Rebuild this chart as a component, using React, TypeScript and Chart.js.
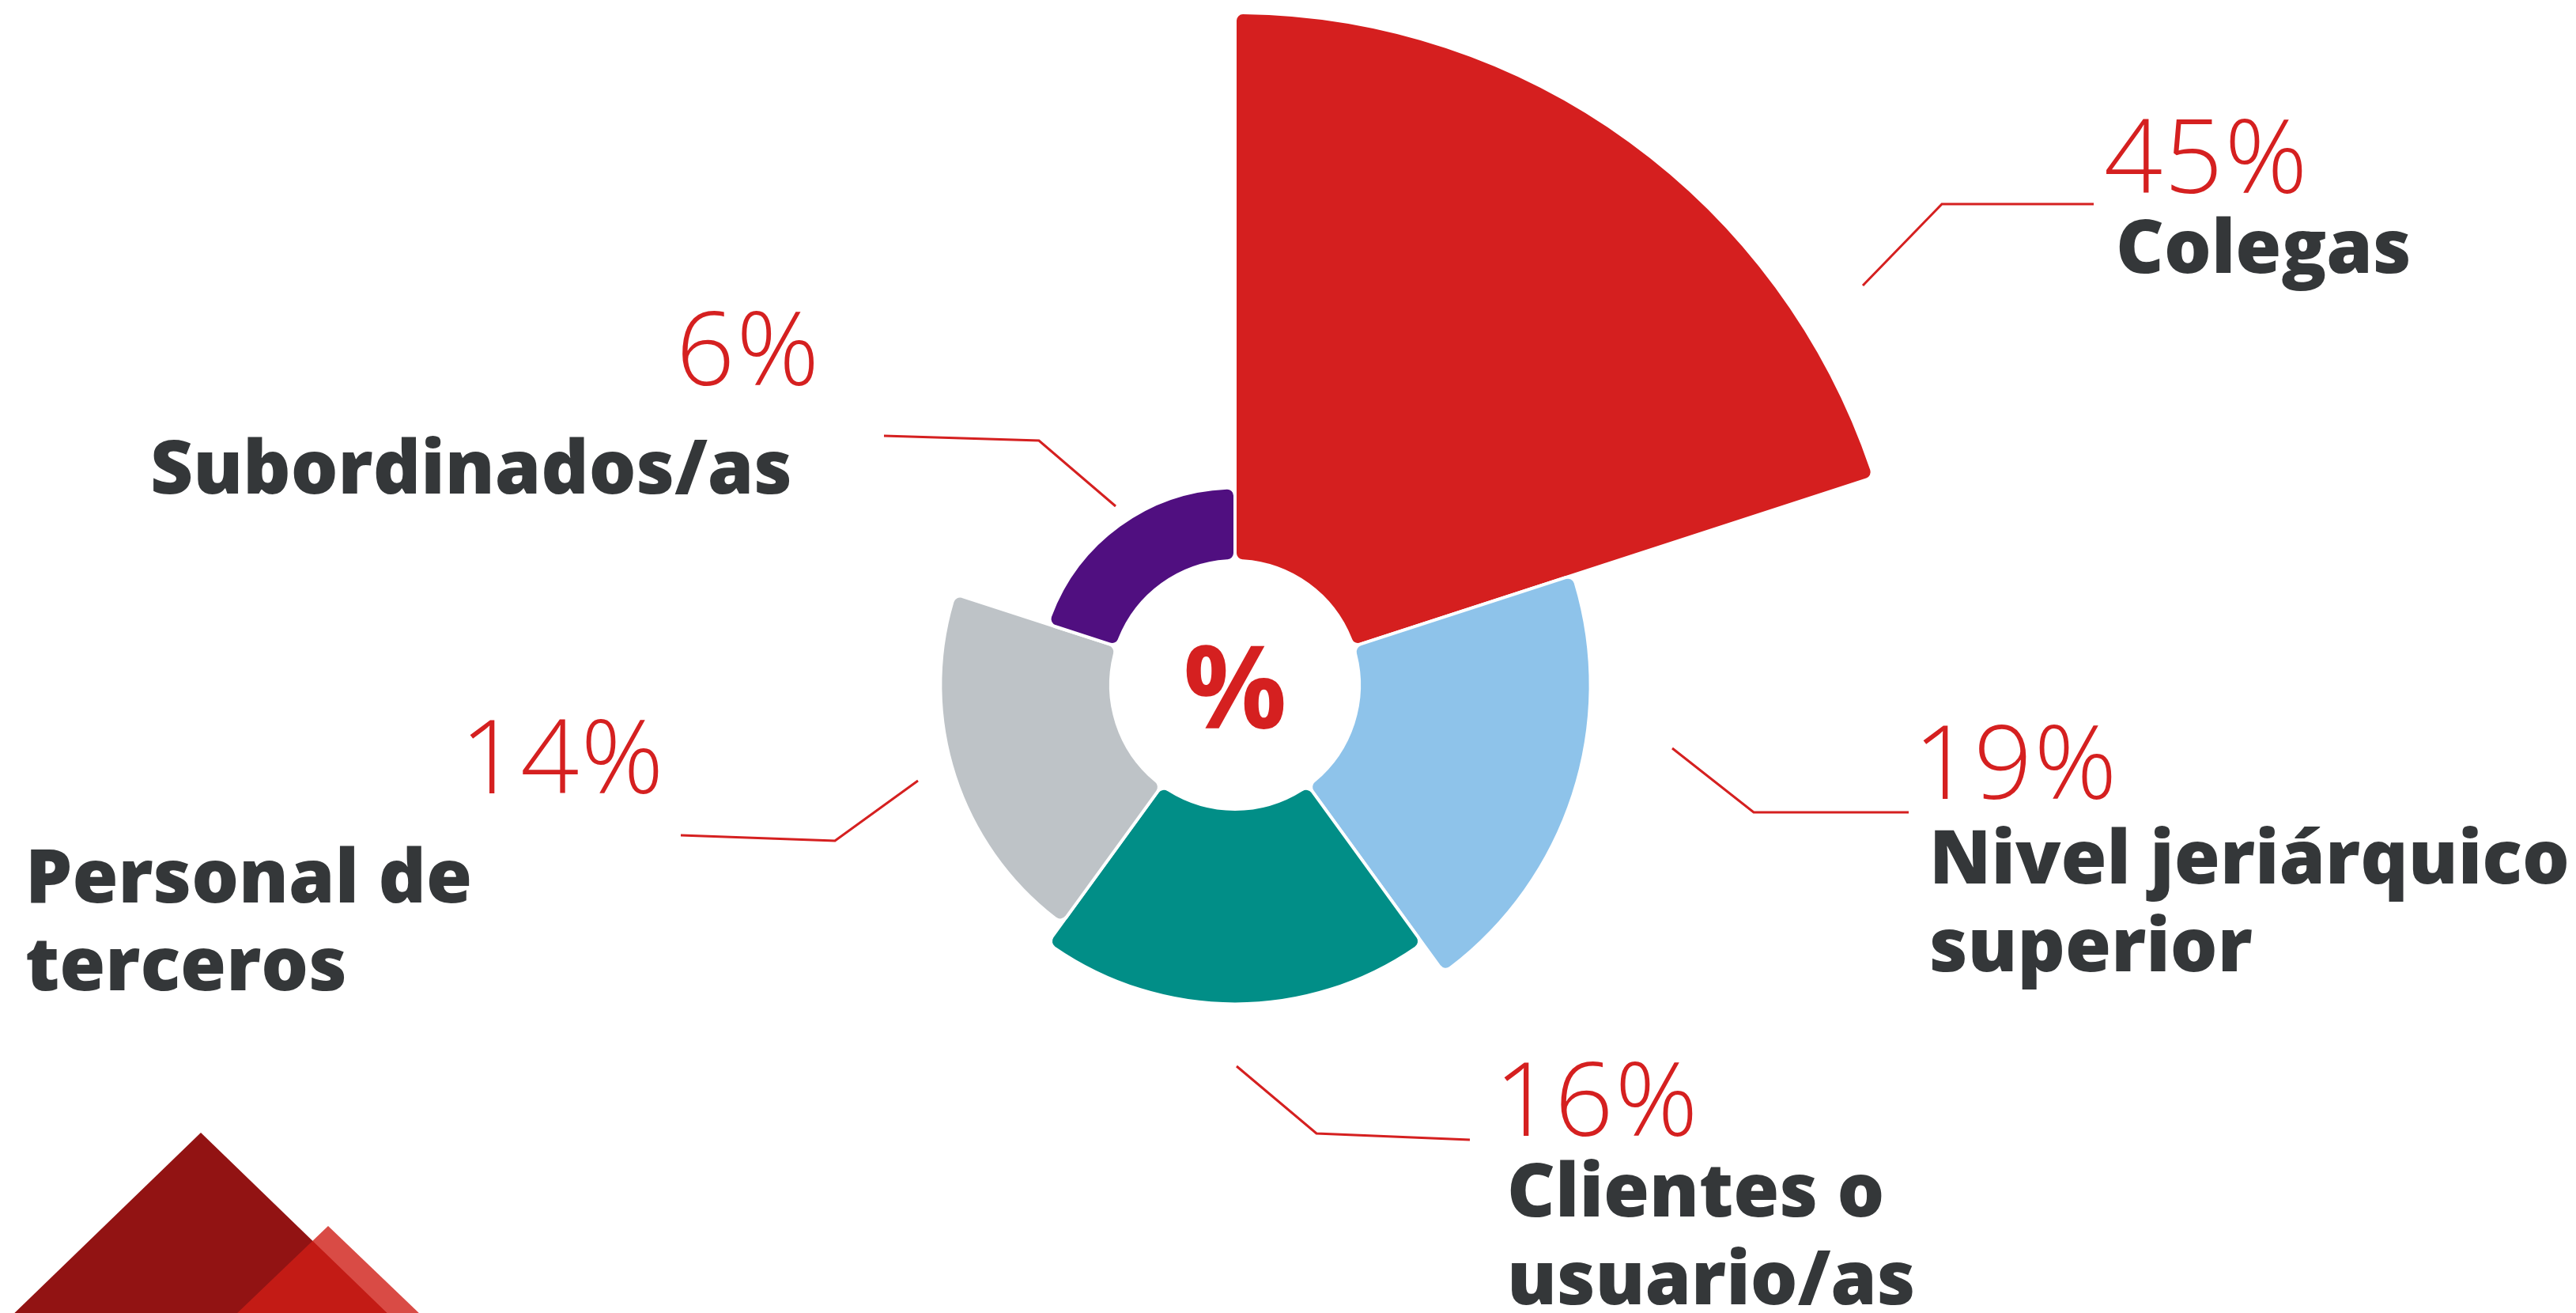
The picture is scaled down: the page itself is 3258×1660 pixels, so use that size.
import React, { useEffect, useRef } from 'react';
import { Chart, registerables } from 'chart.js';

Chart.register(...registerables);

// ---- data ----
const categories = ['Colegas', 'Nivel jeriárquico superior', 'Clientes o usuario/as', 'Personal de terceros', 'Subordinados/as'];
const values = [45, 19, 16, 14, 6];
const labelLines = [['Colegas'], ['Nivel jeriárquico', 'superior'], ['Clientes o', 'usuario/as'], ['Personal de', 'terceros'], ['Subordinados/as']];
const colors = ['#D51F1F', '#8EC3EA', '#018E87', '#BEC3C7', '#500F80'];

// ---- annotation placement (canvas px) ----
const pctPos = [[2661, 244], [2420, 1010], [1890, 1436], [582, 1003], [855, 487]];
const namePos = [[2676, 345], [2440, 1117], [1906, 1538], [32, 1141], [190, 624]];
const leaders = [
  [[2356, 361], [2456, 258], [2648, 258]],
  [[2115, 946], [2218, 1027], [2414, 1027]],
  [[1564, 1348], [1665, 1433], [1859, 1441]],
  [[1161, 987], [1056, 1063], [861, 1056]],
  [[1411, 640], [1314, 557], [1118, 551]],
];

const RED = '#D52020';
const DARK = '#343739';

const annotationPlugin = {
  id: 'annotations',
  beforeDatasetsDraw(chart: any) {
    const scale = chart.scales.r;
    const r0 = scale.getDistanceFromCenterForValue(0);
    chart.getDatasetMeta(0).data.forEach((a: any) => {
      a.innerRadius = r0;
    });
  },
  afterDraw(chart: any) {
    const ctx = chart.ctx as any;
    const scale = chart.scales.r;
    ctx.save();

    // decorative triangles
    ctx.fillStyle = '#921313';
    ctx.beginPath();
    ctx.moveTo(254, 1432);
    ctx.lineTo(254 + 310, 1732);
    ctx.lineTo(254 - 310, 1732);
    ctx.closePath();
    ctx.fill();
    ctx.fillStyle = 'rgba(208, 30, 22, 0.8)';
    ctx.beginPath();
    ctx.moveTo(415, 1550);
    ctx.lineTo(415 + 190, 1732);
    ctx.lineTo(415 - 190, 1732);
    ctx.closePath();
    ctx.fill();

    // center symbol
    ctx.fillStyle = RED;
    ctx.font = '700 146px "Open Sans", "DejaVu Sans", sans-serif';
    ctx.textAlign = 'center';
    ctx.textBaseline = 'alphabetic';
    ctx.fillText('%', scale.xCenter, 921);

    // leader lines
    ctx.strokeStyle = RED;
    ctx.lineWidth = 3;
    ctx.lineJoin = 'miter';
    leaders.forEach((pts) => {
      ctx.beginPath();
      ctx.moveTo(pts[0][0], pts[0][1]);
      for (let i = 1; i < pts.length; i++) ctx.lineTo(pts[i][0], pts[i][1]);
      ctx.stroke();
    });

    // labels
    ctx.textAlign = 'left';
    values.forEach((v, i) => {
      ctx.fillStyle = RED;
      ctx.font = '300 130px "Open Sans", "Lato", sans-serif';
      ctx.letterSpacing = '2px';
      ctx.fillText(`${v}%`, pctPos[i][0], pctPos[i][1]);
      ctx.letterSpacing = '0px';
      ctx.fillStyle = DARK;
      ctx.font = '800 94px "Open Sans", "DejaVu Sans", sans-serif';
      labelLines[i].forEach((line, j) => {
        ctx.fillText(line, namePos[i][0], namePos[i][1] + j * 111);
      });
    });
    ctx.restore();
  },
};

export default function App() {
  const ref = useRef<HTMLCanvasElement>(null);
  useEffect(() => {
    document.body.style.margin = '0';
    const chart = new Chart(ref.current as HTMLCanvasElement, {
      type: 'polarArea',
      data: {
        labels: categories,
        datasets: [
          {
            data: values,
            backgroundColor: colors,
            borderColor: '#ffffff',
            borderWidth: 4,
            borderRadius: 10,
            borderAlign: 'center',
          } as any,
        ],
      },
      options: {
        responsive: false,
        animation: false,
        events: [],
        layout: { padding: { left: 712, right: 846, top: 16, bottom: 16 } },
        plugins: { legend: { display: false }, tooltip: { enabled: false } },
        scales: {
          r: {
            min: -10.2,
            max: 45,
            beginAtZero: false,
            ticks: { display: false },
            grid: { display: false },
            angleLines: { display: false },
            pointLabels: { display: false },
          },
        },
      } as any,
      plugins: [annotationPlugin],
    });
    return () => chart.destroy();
  }, []);
  return (
    <div style={{ position: 'absolute', left: 0, top: 0, width: 3258, height: 1660, overflow: 'hidden', background: '#ffffff' }}>
      <canvas ref={ref} width={3258} height={1732} style={{ display: 'block' }} />
    </div>
  );
}
